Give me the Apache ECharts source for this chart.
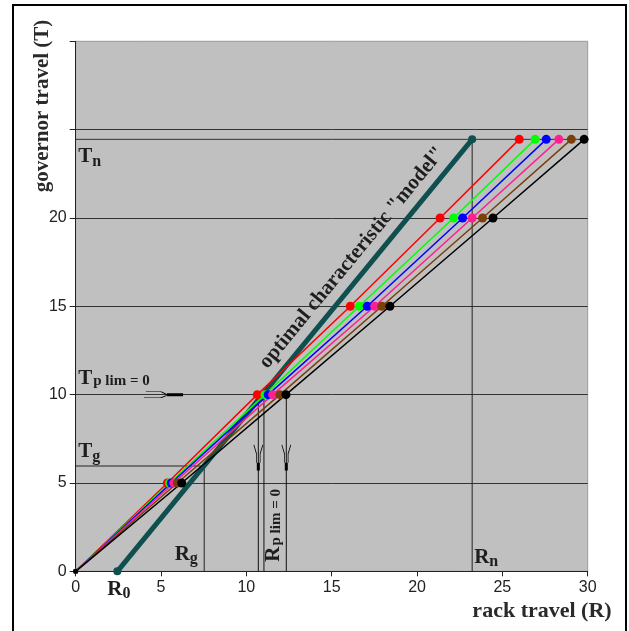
<!DOCTYPE html>
<html>
<head>
<meta charset="utf-8">
<script src="https://cdn.jsdelivr.net/npm/echarts@6/dist/echarts.min.js"></script>
<style>
  html, body { margin: 0; padding: 0; background: #fff; }
  #chart { width: 629px; height: 631px; }
</style>
</head>
<body>
<div id="chart"></div>
<script>
// governor travel levels where the measured points sit
var governorLevels = [0, 5, 10, 15, 20, 24.45];
// rack travel of each measured curve at those levels
var redR   = [0, 5.37, 10.64, 16.09, 21.35, 25.99];
var greenR = [0, 5.50, 11.09, 16.61, 22.14, 26.92];
var blueR  = [0, 5.60, 11.28, 17.08, 22.67, 27.57];
var pinkR  = [0, 5.75, 11.54, 17.52, 23.23, 28.31];
var brownR = [0, 5.95, 11.97, 17.94, 23.84, 29.04];
var blackR = [0, 6.21, 12.32, 18.41, 24.45, 29.79];

// optimal characteristic "model"
var R0 = 2.44, Rn = 23.23, Tn = 24.45;
var Rg = 7.53, Tg = 5.96;
var Tlim = 10;
var rLimLines = [10.70, 11.03, 12.34];
var downArrowR = [10.70, 12.34];

var xTickLabels = [0, 5, 10, 15, 20, 25, 30];
var yTickLabels = [0, 5, 10, 15, 20];

var serif = 'Liberation Serif';
var ink = '#1e1e1e';
var rich = {
    b: { fontFamily: serif, fontWeight: 'bold', fontSize: 21, color: ink },
    s: { fontFamily: serif, fontWeight: 'bold', fontSize: 16, color: ink, padding: [9, 0, 0, 0] },
    m: { fontFamily: serif, fontWeight: 'bold', fontSize: 15, color: ink, padding: [5, 0, 0, 1] }
};

function curve(name, color, rs) {
    return {
        name: name,
        type: 'line',
        data: rs.map(function (r, i) { return [r, governorLevels[i]]; }),
        lineStyle: { color: color, width: 1.5 },
        itemStyle: { color: color },
        symbol: 'circle',
        symbolSize: function (v, p) { return p.dataIndex === 0 ? 5 : 9; },
        z: 4
    };
}

function seg(points, width, color, z) {
    return {
        type: 'line',
        data: points,
        symbol: 'none',
        lineStyle: { color: color, width: width },
        z: z || 2
    };
}

var series = [];
// reference lines
series.push(seg([[0, Tn], [30, Tn]], 1, '#333'));
series.push(seg([[Rn, 0], [Rn, Tn]], 1, '#222'));
series.push(seg([[0, Tg], [Rg, Tg], [Rg, 0]], 1, '#222'));
rLimLines.forEach(function (r) {
    series.push(seg([[r, Tlim], [r, 0]], 1, '#111'));
});
// model line
series.push({
    type: 'line',
    data: [[R0, 0], [Rn, Tn]],
    symbol: 'circle',
    symbolSize: 8,
    lineStyle: { color: '#0f4f4f', width: 5 },
    itemStyle: { color: '#0f4f4f' },
    z: 3
});
series.push(curve('red', '#ff0000', redR));
series.push(curve('green', '#00ff00', greenR));
series.push(curve('blue', '#0000ff', blueR));
series.push(curve('pink', '#ff1f8f', pinkR));
series.push(curve('brown', '#7a3f0a', brownR));
series.push(curve('black', '#000000', blackR));

// arrows
downArrowR.forEach(function (r) {
    series.push(seg([[r, 6.15], [r, 5.7]], 3, '#000', 5));
});
series.push(seg([[5.35, Tlim], [6.29, Tlim]], 3, '#000', 5));
series.push({
    type: 'scatter',
    clip: false,
    z: 5,
    data: downArrowR.map(function (r) { return [r, 6.65]; }),
    symbol: 'path://M0,0 L3,10 L3,20 M10,0 L7,10 L7,20',
    symbolSize: [9, 18],
    itemStyle: { color: 'rgba(0,0,0,0)', borderColor: '#000', borderWidth: 1, opacity: 1 }
});
series.push({
    type: 'scatter',
    clip: false,
    z: 5,
    data: [[4.67, Tlim]],
    symbol: 'path://M2,0 L18,0 L24,4 M0,8 L18,8 L24,5',
    symbolSize: [23, 6],
    itemStyle: { color: 'rgba(0,0,0,0)', borderColor: '#000', borderWidth: 1, opacity: 1 }
});

// annotation labels
function note(pos, text, extra) {
    var label = { show: true, formatter: text, rich: rich, position: 'right', distance: 0 };
    for (var k in extra) label[k] = extra[k];
    return { value: pos, label: label };
}
series.push({
    type: 'scatter',
    clip: false,
    symbolSize: 0,
    itemStyle: { opacity: 1 },
    z: 6,
    data: [
        note([0.15, 23.45], '{b|T}{s|n}'),
        note([0.15, 10.9], '{b|T}{m|p lim = 0}'),
        note([0.15, 6.75], '{b|T}{s|g}'),
        note([1.85, -1.05], '{b|R}{s|0}'),
        note([5.8, 0.95], '{b|R}{s|g}'),
        note([23.35, 0.8], '{b|R}{s|n}'),
        note([11.6, 2.6], '{b|R}{m|p lim = 0}', { position: 'inside', rotate: 90 }),
        note([16.2, 17.75], 'optimal characteristic "model"', {
            position: 'inside', rotate: 50.6,
            fontFamily: serif, fontWeight: 'bold', fontSize: 21, color: ink
        })
    ]
});

var option = {
    animation: false,
    backgroundColor: '#fff',
    grid: {
        left: 75.7, right: 41.3, top: 41.3, bottom: 59.7,
        show: true,
        backgroundColor: '#c0c0c0',
        borderColor: '#9a9a9a',
        borderWidth: 1
    },
    xAxis: {
        type: 'value',
        min: 0, max: 30, interval: 5,
        axisLine: { lineStyle: { color: '#222', width: 1 } },
        axisTick: { show: true, length: 5, lineStyle: { color: '#222' } },
        axisLabel: {
            color: '#222', fontFamily: 'Liberation Sans', fontSize: 16, margin: 8,
            formatter: function (v) { return xTickLabels.indexOf(v) >= 0 ? String(v) : ''; }
        },
        splitLine: { show: false }
    },
    yAxis: {
        type: 'value',
        min: 0, max: 30, interval: 5,
        axisLine: { show: true, lineStyle: { color: '#222', width: 1 } },
        axisTick: { show: true, length: 6, lineStyle: { color: '#222' } },
        axisLabel: {
            color: '#222', fontFamily: 'Liberation Sans', fontSize: 16, margin: 9,
            formatter: function (v) { return yTickLabels.indexOf(v) >= 0 ? String(v) : ''; }
        },
        splitLine: { show: true, showMinLine: false, showMaxLine: false, lineStyle: { color: '#333', width: 1 } }
    },
    graphic: [
        {
            type: 'rect', silent: true,
            shape: { x: 13, y: 5, width: 613, height: 660 },
            style: { fill: 'none', stroke: '#000', lineWidth: 2 }
        },
        {
            type: 'text', silent: true,
            x: 43, y: 106, rotation: Math.PI / 2,
            style: {
                text: 'governor travel (T)', fill: '#2a2a2a',
                font: 'bold 21px "Liberation Serif"',
                align: 'center', verticalAlign: 'middle'
            }
        },
        {
            type: 'text', silent: true,
            x: 542, y: 611,
            style: {
                text: 'rack travel (R)', fill: '#2a2a2a',
                font: 'bold 22px "Liberation Serif"',
                align: 'center', verticalAlign: 'middle'
            }
        }
    ],
    series: series
};

var chart = echarts.init(document.getElementById('chart'));
chart.setOption(option);
</script>
</body>
</html>
